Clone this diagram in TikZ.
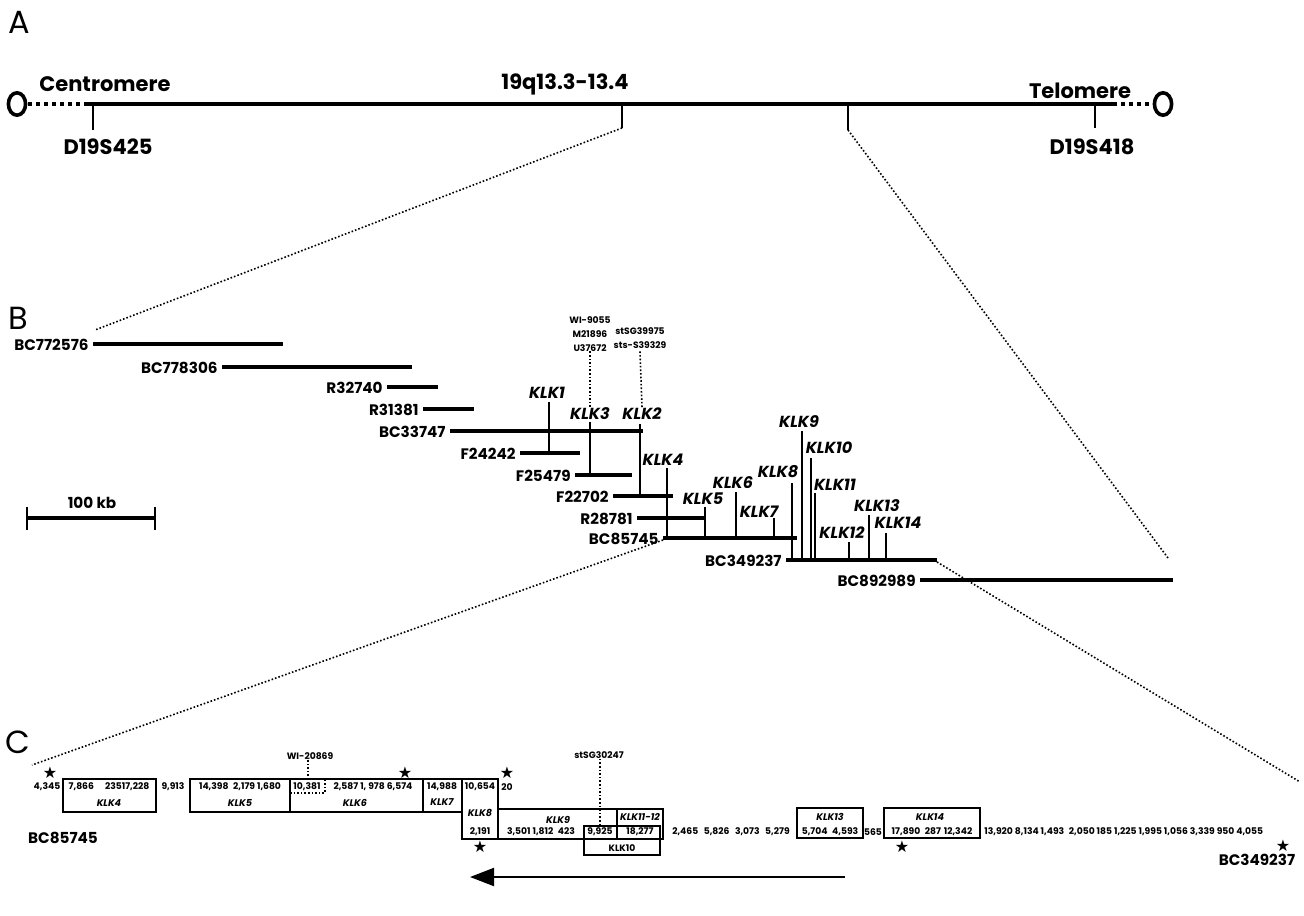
\documentclass[tikz,border=0pt]{standalone}
\usepackage{fontspec}
\setmainfont{Poppins}
\newfontfamily\starfont{DejaVu Sans}
\usetikzlibrary{arrows.meta}
\tikzset{
  chrom/.style={line width=2pt},
  clone/.style={line width=2pt},
  genetick/.style={line width=1pt},
  zoomline/.style={densely dotted, line width=0.8pt},
  telo/.style={dotted, line width=2pt},
  panel/.style={font=\fontsize{16}{16}\selectfont, inner sep=0pt},
  big/.style={font=\bfseries\fontsize{10.5}{10.5}\selectfont, inner sep=1pt},
  cname/.style={font=\bfseries\fontsize{7.6}{7.6}\selectfont, inner sep=1pt},
  gname/.style={font=\bfseries\itshape\fontsize{8}{8}\selectfont, inner sep=0pt},
  tiny/.style={font=\bfseries\fontsize{4.6}{4.6}\selectfont, inner sep=0pt, align=center},
  num/.style={font=\bfseries\fontsize{4.6}{4.6}\selectfont, inner sep=0pt},
  boxname/.style={font=\bfseries\itshape\fontsize{4.8}{4.8}\selectfont, inner sep=0pt},
  genebox/.style={line width=0.8pt},
  staricon/.style={font=\starfont\fontsize{8}{8}\selectfont, inner sep=0pt},
}
\begin{document}
\begin{tikzpicture}[x=0.5pt,y=-0.5pt]
  \useasboundingbox (0,0) rectangle (1304,915);

  % Panel A: chromosome 19q
  \node[panel] (lblA) at (19,22) {A};
  \draw[line width=1.8pt] (17,104) ellipse (4.3pt and 5.6pt);
  \draw[line width=1.8pt] (1163,104) ellipse (4.3pt and 5.6pt);
  \draw[telo] (28,104) -- (88,104);
  \draw[chrom] (88,104) -- (1113,104);
  \draw[telo] (1113,104) -- (1152,104);
  \foreach \x/\y in {93/130, 622/128, 848/130, 1095/128} {
    \draw[genetick] (\x,104) -- (\x,\y);
  }
  \coordinate (tA1) at (622,128);
  \coordinate (tA2) at (848,130);
  \node[big, anchor=west] (centro) at (37,84) {Centromere};
  \node[big] (band) at (565,84) {19q13.3-13.4};
  \node[big] (telom) at (1080,91) {Telomere};
  \node[big] (D19S425) at (108,147) {D19S425};
  \node[big] (D19S418) at (1092,147) {D19S418};

  % zoom A -> B
  \coordinate (zB1) at (95,330);
  \coordinate (zB2) at (1168,558);
  \draw[zoomline] (tA1) -- (zB1);
  \draw[zoomline] (tA2) -- (zB2);

  % Panel B: contig
  \node[panel] (lblB) at (18,318) {B};
  \foreach \name/\xa/\xb/\y in {BC772576/93/283/344, BC778306/222/412/367,
      R32740/387/438/387, R31381/423/474/409, BC33747/450/643/431,
      F24242/520/580/453, F25479/575/632/475, F22702/613/673/496,
      R28781/637/705/518, BC85745/663/797/538, BC349237/786/937/560,
      BC892989/920/1173/580} {
    \draw[clone] (\xa,\y) -- (\xb,\y);
    \node[cname, anchor=east] (\name) at (\xa-2,\y+1) {\name};
  }

  % genes
  \foreach \g/\x/\ya/\yb/\lx/\ly in {1/549/402/453/547/393, 3/590/422/475/590/414,
      2/640/424/496/642/414, 4/667/468/538/663/460, 5/705/507/538/703/499,
      6/736/492/538/733/483, 7/774/518/538/759/512, 8/792/483/560/778/472,
      9/802/431/560/799/422, 10/811/458/560/829/448, 11/815/493/560/835/485,
      12/849/542/560/842/533, 13/869/515/560/877/506, 14/886/533/560/898/523} {
    \draw[genetick] (\x,\ya) -- (\x,\yb);
    \node[gname] (KLK\g) at (\lx,\ly) {KLK\g};
  }

  % markers
  \node[tiny] (mk3) at (590,334) {WI-9055\\[2.2pt]M21896\\[2.2pt]U37672};
  \node[tiny] (mk2) at (640,338) {stSG39975\\[2.2pt]sts-S39329};
  \draw[zoomline] (mk3.south) -- (KLK3.north);
  \draw[zoomline] (mk2.south |- mk3.south) -- (KLK2.north);

  % scale bar
  \draw[clone] (27,518) -- (155,518);
  \draw[genetick] (27,507) -- (27,530);
  \draw[genetick] (155,507) -- (155,530);
  \node[cname] (scale) at (92,503) {100 kb};

  % zoom B -> C
  \coordinate (zC1) at (32,765);
  \coordinate (zC2) at (1300,782);
  \draw[zoomline] (663,540) -- (zC1);
  \draw[zoomline] (937,562) -- (zC2);

  % Panel C: gene boxes
  \node[panel] (lblC) at (18,742) {C};
  \draw[genebox] (63,779) rectangle (156,812);
  \draw[genebox] (190,779) rectangle (290,812);
  \draw[genebox] (290,779) rectangle (423,812);
  \draw[genebox] (423,779) rectangle (462,812);
  \draw[genebox] (462,779) rectangle (498,839);
  \draw[genebox] (498,809) rectangle (617,839);
  \draw[genebox] (617,809) rectangle (663,839);
  \draw[genebox] (584,826) rectangle (660,855);
  \draw[genebox] (797,808) rectangle (863,838);
  \draw[genebox] (884,808) rectangle (980,838);
  \draw[densely dotted, line width=0.8pt] (290,793) -- (325,793) -- (325,779);

  % exon / intron lengths
  \node[num] (n1) at (47,787) {4,345};
  \node[num] (n2) at (109,787) {7,866\hspace{1.2em}23517,228};
  \node[num] (n3) at (173,787) {9,913};
  \node[num] (n4) at (240,787) {14,398\hspace{0.5em}2,179 1,680};
  \node[num] (n5) at (307,787) {10,381};
  \node[num] (n6) at (373,787) {2,587 1, 978 6,574};
  \node[num] (n7) at (442,787) {14,988};
  \node[num] (n8) at (480,787) {10,654};
  \node[num] (n9) at (507,787) {20};
  \node[num] (n10) at (480,832) {2,191};
  \node[num] (n11) at (541,832) {3,501 1,812\hspace{0.5em}423};
  \node[num] (n12) at (600,832) {9,925};
  \node[num] (n13) at (640,832) {18,277};
  \node[num] (n14) at (731,832) {2,465\hspace{0.6em}5,826\hspace{0.6em}3,073\hspace{0.6em}5,279};
  \node[num] (n15) at (830,832) {5,704\hspace{0.5em}4,593};
  \node[num] (n16) at (873,832) {565};
  \node[num] (n17) at (932,832) {17,890\hspace{0.5em}287\hspace{0.3em}12,342};
  \node[num, anchor=west] (n18) at (984,832) {13,920 8,134 1,493\hspace{0.5em}2,050 185 1,225 1,995 1,056 3,339 950 4,055};

  % gene names in boxes
  \node[boxname] (bKLK4) at (109,803) {KLK4};
  \node[boxname] (bKLK5) at (240,803) {KLK5};
  \node[boxname] (bKLK6) at (355,803) {KLK6};
  \node[boxname] (bKLK7) at (442,802) {KLK7};
  \node[boxname] (bKLK8) at (480,813) {KLK8};
  \node[boxname] (bKLK9) at (558,820) {KLK9};
  \node[boxname] (bKLK1112) at (640,817) {KLK11-12};
  \node[num] (bKLK10) at (622,848) {KLK10};
  \node[boxname] (bKLK13) at (830,817) {KLK13};
  \node[boxname] (bKLK14) at (930,817) {KLK14};

  % stars
  \foreach \x/\y [count=\i] in {50/773, 405/773, 507/773, 480/847, 902/847, 1283/846} {
    \node[staricon] (st\i) at (\x,\y) {★};
  }

  % markers in C
  \node[tiny] (mkC1) at (310,756) {WI-20869};
  \node[tiny] (mkC2) at (599,755) {stSG30247};
  \draw[zoomline] (mkC1.south -| 308,0) -- (308,779);
  \draw[zoomline] (mkC2.south -| 600,0) -- (600,824);

  \node[cname] (cBC85745) at (63,838) {BC85745};
  \node[cname] (cBC349237) at (1257,860) {BC349237};

  % direction of transcription
  \coordinate (arrS) at (845,877);
  \coordinate (arrE) at (470,877);
  \draw[-{Triangle[length=12pt,width=9pt]}, line width=1pt] (arrS) -- (arrE);
\end{tikzpicture}
\end{document}
